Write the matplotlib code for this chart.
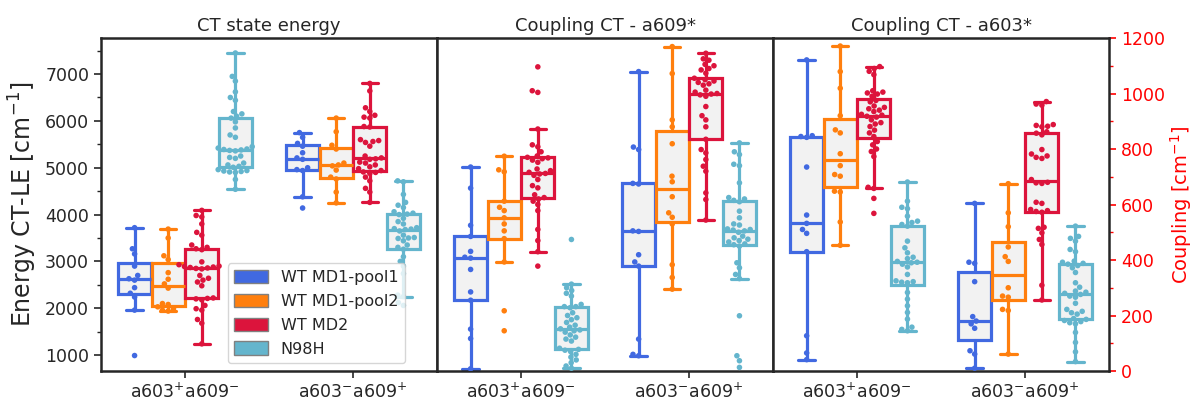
import matplotlib
matplotlib.use("Agg")
import matplotlib.pyplot as plt
import matplotlib.patches as mpatches
from matplotlib.ticker import MultipleLocator
import numpy as np
import pandas as pd
import seaborn as sns

# ---------------- data ----------------
groups = ["WT MD1-pool1", "WT MD1-pool2", "WT MD2", "N98H"]
colors = ["#4169E1", "#FF7F0E", "#DC143C", "#64B5CD"]
categories = ["a603$^{+}$a609$^{-}$", "a603$^{-}$a609$^{+}$"]
titles = ["CT state energy", "Coupling CT - a609*", "Coupling CT - a603*"]

# Panel 1: CT state energy (cm^-1)
energy_pool1_c1 = [3720, 3270, 3160, 2900, 2700, 2630, 2600, 2440, 2320, 2240, 1960, 990]
energy_pool2_c1 = [3690, 3500, 3120, 3040, 2760, 2620, 2520, 2430, 2100, 2080, 2030, 1990, 1960, 1940]
energy_md2_c1 = [4090, 3980, 3950, 3800, 3620, 3560, 3350, 3300, 3250, 3270, 2990, 2930, 2900, 2890,
                 2880, 2870, 2860, 2850, 2840, 2700, 2640, 2600, 2560, 2480, 2220, 2210, 2200, 2180,
                 2060, 1990, 1960, 1760, 1680, 1240]
energy_n98h_c1 = [7450, 6950, 6850, 6620, 6500, 6440, 6200, 6150, 6100, 6060, 5980, 5850, 5700, 5650,
                  5450, 5420, 5400, 5390, 5380, 5370, 5360, 5250, 5220, 5200, 5100, 5060, 5030, 5010,
                  4960, 4940, 4930, 4920, 4910, 4900, 4750, 4540]
energy_pool1_c2 = [5750, 5650, 5520, 5460, 5320, 5210, 5180, 5000, 4960, 4940, 4380, 4140]
energy_pool2_c2 = [6060, 5770, 5480, 5400, 5100, 5060, 5040, 4950, 4800, 4760, 4480, 4250]
energy_md2_c2 = [6800, 6640, 6280, 6200, 6120, 6080, 6060, 5880, 5870, 5600, 5580, 5560, 5540, 5460,
                 5250, 5210, 5190, 5180, 5120, 5100, 5060, 5020, 4980, 4940, 4910, 4900, 4880, 4800,
                 4720, 4560, 4480, 4260]
energy_n98h_c2 = [4720, 4700, 4430, 4260, 4200, 4150, 4060, 4030, 4010, 4000, 3920, 3850, 3800, 3720,
                  3700, 3690, 3680, 3650, 3560, 3510, 3500, 3490, 3440, 3350, 3300, 3260, 3100, 3000,
                  2900, 2740, 2280, 2250, 2120, 2060]

# Panel 2: Coupling CT - a609* (cm^-1)
c609_pool1_c1 = [735, 659, 525, 485, 431, 410, 407, 366, 285, 255, 151, 117, 8]
c609_pool2_c1 = [774, 725, 718, 612, 590, 578, 552, 530, 505, 477, 393, 217, 145]
c609_md2_c1 = [1096, 1010, 1004, 872, 815, 808, 790, 775, 770, 768, 765, 760, 752, 728, 722, 716,
               712, 710, 705, 690, 668, 660, 635, 625, 620, 612, 600, 578, 510, 470, 430, 378]
c609_n98h_c1 = [474, 313, 300, 290, 280, 270, 240, 232, 232, 228, 210, 200, 192, 185, 175, 165, 158,
                152, 148, 145, 140, 130, 122, 115, 108, 82, 75, 78, 70, 60, 50, 40, 30, 18, 10]
c609_pool1_c2 = [1079, 807, 798, 676, 674, 505, 503, 419, 393, 378, 115, 60, 55]
c609_pool2_c2 = [1169, 1072, 905, 880, 819, 702, 682, 628, 570, 554, 530, 383, 337, 295]
c609_md2_c2 = [1145, 1125, 1120, 1105, 1100, 1090, 1085, 1073, 1055, 1050, 1045, 1040, 1035, 1030,
               1012, 1005, 1000, 998, 995, 990, 953, 920, 905, 880, 835, 798, 786, 762, 738, 720,
               642, 618, 544]
c609_n98h_c2 = [822, 790, 780, 745, 740, 678, 625, 620, 615, 610, 576, 552, 530, 526, 512, 510, 508,
                505, 500, 486, 480, 475, 470, 465, 458, 455, 450, 390, 372, 348, 333, 199, 55, 37, 13]

# Panel 3: Coupling CT - a603* (cm^-1)
c603_pool1_c1 = [1121, 848, 845, 842, 735, 562, 532, 510, 496, 430, 127, 65, 41]
c603_pool2_c1 = [1171, 1079, 1019, 920, 869, 858, 783, 740, 708, 702, 648, 645, 537, 453]
c603_md2_c1 = [1097, 1090, 1080, 1068, 1010, 1005, 1002, 998, 990, 975, 970, 955, 950, 945, 940,
               935, 925, 922, 918, 915, 905, 895, 890, 881, 868, 858, 845, 827, 815, 800, 791, 773,
               662, 658, 622, 568]
c603_n98h_c1 = [681, 612, 590, 585, 558, 540, 535, 528, 522, 468, 444, 426, 410, 405, 395, 392, 390,
                385, 375, 348, 325, 322, 320, 318, 283, 259, 235, 211, 187, 158, 150, 145]
c603_pool1_c2 = [604, 392, 388, 322, 196, 180, 170, 154, 73, 61, 10]
c603_pool2_c2 = [675, 570, 520, 447, 412, 395, 300, 270, 266, 222, 218, 61]
c603_md2_c2 = [971, 962, 958, 888, 885, 882, 880, 862, 857, 851, 798, 782, 775, 770, 766, 690, 680,
               678, 676, 608, 604, 582, 578, 575, 572, 518, 514, 498, 474, 456, 309, 256]
c603_n98h_c2 = [522, 485, 478, 468, 438, 430, 396, 392, 388, 385, 380, 372, 355, 318, 302, 288, 284,
                280, 276, 270, 266, 244, 222, 215, 210, 205, 189, 186, 182, 178, 174, 170, 139, 103,
                69, 34]

panels = [
    [[energy_pool1_c1, energy_pool2_c1, energy_md2_c1, energy_n98h_c1],
     [energy_pool1_c2, energy_pool2_c2, energy_md2_c2, energy_n98h_c2]],
    [[c609_pool1_c1, c609_pool2_c1, c609_md2_c1, c609_n98h_c1],
     [c609_pool1_c2, c609_pool2_c2, c609_md2_c2, c609_n98h_c2]],
    [[c603_pool1_c1, c603_pool2_c1, c603_md2_c1, c603_n98h_c1],
     [c603_pool1_c2, c603_pool2_c2, c603_md2_c2, c603_n98h_c2]],
]

# ---------------- figure ----------------
sns.set_style("ticks")
plt.rcParams["font.family"] = ["DejaVu Sans"]
text_col = "0.15"

fig = plt.figure(figsize=(11.95, 4.03), dpi=100)
left, bottom, h = 0.0845, 0.0794, 0.8263
w = 0.2812
axes = [fig.add_axes([left + i * w, bottom, w, h]) for i in range(3)]

offsets = [-0.3, -0.1, 0.1, 0.3]
bw = 0.2

for pi, ax in enumerate(axes):
    data = panels[pi]
    rows = []
    for ci, cat in enumerate(categories):
        for gi, g in enumerate(groups):
            vals = data[ci][gi]
            col = colors[gi]
            ax.boxplot([vals], positions=[ci + offsets[gi]], widths=bw * 0.98,
                       patch_artist=True, showfliers=False,
                       boxprops=dict(facecolor="0.95", edgecolor=col, linewidth=2.3),
                       medianprops=dict(color=col, linewidth=2.3),
                       whiskerprops=dict(color=col, linewidth=2.3),
                       capprops=dict(color=col, linewidth=2.3),
                       manage_ticks=False, zorder=2)
            for v in vals:
                rows.append((cat, g, v))
    df = pd.DataFrame(rows, columns=["cat", "group", "val"])
    sns.swarmplot(data=df, x="cat", y="val", hue="group", order=categories,
                  hue_order=groups, palette=colors, dodge=True, size=4,
                  ax=ax, legend=False, zorder=3)
    ax.set_xlim(-0.5, 1.5)
    ax.set_xticks([0, 1])
    ax.set_xticklabels(categories, fontsize=12.5, color=text_col)
    ax.set_xlabel("")
    ax.set_ylabel("")
    ax.set_title(titles[pi], fontsize=13, color=text_col, pad=5)
    for s in ax.spines.values():
        s.set_visible(True)
        s.set_linewidth(1.8)
        s.set_color("0.15")
    ax.tick_params(axis="x", length=5, width=1.2, color="0.15")

# left panel
ax0 = axes[0]
ax0.set_ylim(660, 7770)
ax0.yaxis.set_major_locator(MultipleLocator(1000))
ax0.yaxis.set_minor_locator(MultipleLocator(500))
ax0.tick_params(axis="y", which="major", labelsize=12.5, labelcolor=text_col, length=5, width=1.2)
ax0.tick_params(axis="y", which="minor", length=3, width=1.0)
ax0.set_ylabel("Energy CT-LE [cm$^{-1}$]", fontsize=17, color=text_col)

handles = [mpatches.Patch(facecolor=c, edgecolor="0.5", label=g) for g, c in zip(groups, colors)]
leg = ax0.legend(handles=handles, loc="lower left", bbox_to_anchor=(0.378, 0.024),
                 borderaxespad=0, fontsize=11.5, frameon=True, framealpha=0.8,
                 handlelength=2.1, handleheight=0.9, labelspacing=0.55)
for t in leg.get_texts():
    t.set_color(text_col)

# middle and right panels share coupling scale
for ax in axes[1:]:
    ax.set_ylim(0, 1200)
axes[1].tick_params(axis="y", which="both", left=False, right=False,
                    labelleft=False, labelright=False)
ax2 = axes[2]
ax2.yaxis.tick_right()
ax2.yaxis.set_label_position("right")
ax2.yaxis.set_major_locator(MultipleLocator(200))
ax2.yaxis.set_minor_locator(MultipleLocator(100))
ax2.tick_params(axis="y", which="major", left=False, right=True, labelleft=False,
                labelright=True, labelsize=12.5, labelcolor="red", colors="red",
                length=5, width=1.2)
ax2.tick_params(axis="y", which="minor", left=False, right=True, colors="red",
                length=3, width=1.0)
ax2.set_ylabel("Coupling [cm$^{-1}$]", fontsize=14, color="red", labelpad=2)

fig.savefig("out.png", dpi=100)
